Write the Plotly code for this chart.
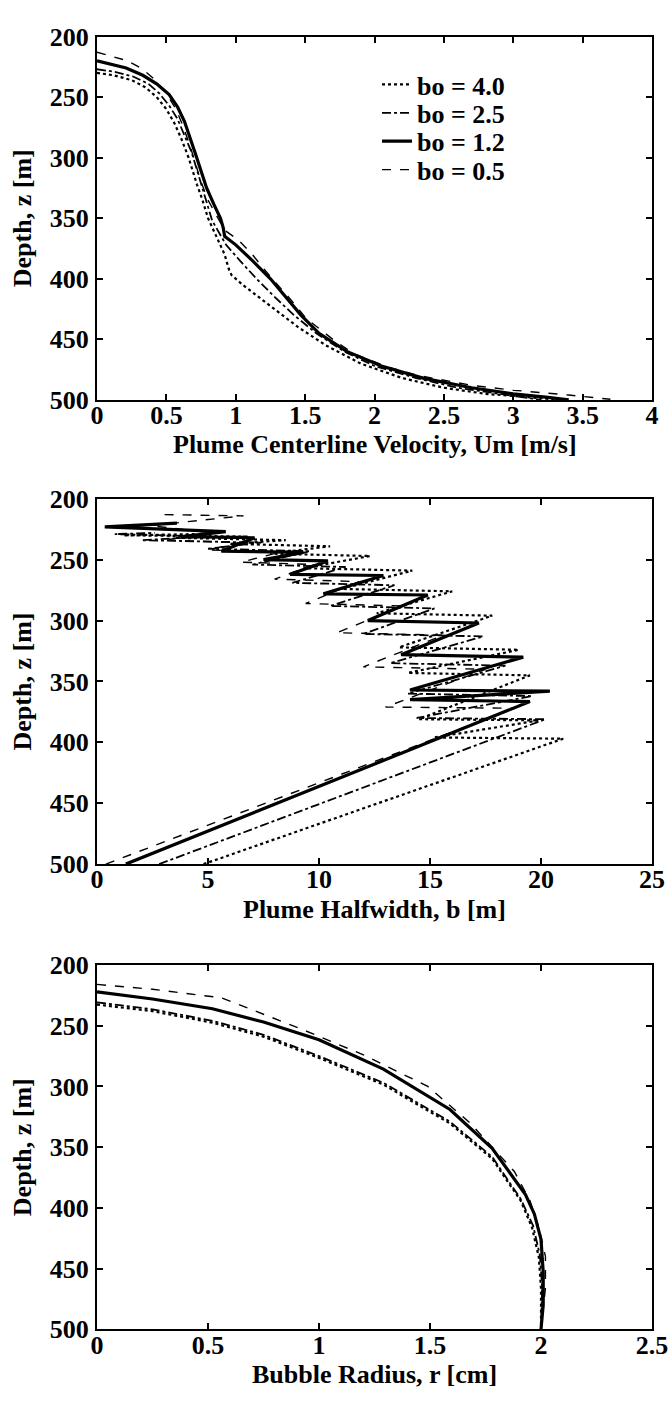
import plotly.graph_objects as go

W, H = 672, 1407
ML, MR = 97, 20

# ---------------- data ----------------
labels = ["bo = 4.0", "bo = 2.5", "bo = 1.2", "bo = 0.5"]

# Panel 1: plume centerline velocity Um [m/s] vs depth z [m]
u_40 = [0, 0.12, 0.25, 0.35, 0.43, 0.50, 0.56, 0.61, 0.66, 0.70, 0.72, 0.76, 0.80, 0.86, 0.92, 0.95, 0.97, 1.05, 1.22, 1.45, 1.65, 1.90, 2.20, 2.50, 2.80, 3.10, 3.35]
z1_40 = [230, 232, 236, 242, 250, 260, 272, 285, 300, 315, 322, 335, 350, 365, 380, 392, 397, 405, 420, 440, 455, 470, 482, 490, 495, 498, 500]
u_25 = [0, 0.12, 0.26, 0.37, 0.45, 0.52, 0.58, 0.63, 0.68, 0.72, 0.76, 0.80, 0.83, 0.88, 0.93, 1.03, 1.15, 1.28, 1.42, 1.58, 1.78, 2.00, 2.30, 2.60, 2.95, 3.20]
z1_25 = [227, 229, 233, 239, 247, 257, 268, 281, 295, 310, 325, 340, 352, 362, 372, 385, 400, 415, 430, 445, 460, 472, 482, 490, 496, 500]
u_12 = [0, 0.10, 0.21, 0.33, 0.43, 0.52, 0.58, 0.63, 0.67, 0.71, 0.75, 0.79, 0.84, 0.89, 0.91, 0.92, 1.00, 1.12, 1.25, 1.36, 1.47, 1.60, 1.80, 2.05, 2.35, 2.70, 3.00, 3.25, 3.40]
z1_12 = [220, 223, 226, 232, 239, 248, 258, 270, 283, 297, 311, 325, 338, 350, 358, 365, 372, 385, 400, 415, 430, 445, 460, 472, 482, 490, 495, 498, 500]
u_05 = [0, 0.10, 0.22, 0.33, 0.42, 0.50, 0.57, 0.62, 0.67, 0.71, 0.75, 0.80, 0.86, 0.92, 1.02, 1.12, 1.19, 1.27, 1.38, 1.51, 1.70, 1.85, 2.10, 2.32, 2.70, 3.00, 3.40, 3.70]
z1_05 = [213, 216, 220, 227, 236, 247, 260, 274, 290, 305, 320, 335, 348, 360, 368, 380, 390, 401, 415, 433, 450, 462, 473, 480, 488, 492, 496, 499.5]

# Panel 2: plume halfwidth b [m] vs depth z [m]
b_40 = [4.8, 21.0, 15.2, 19.9, 14.5, 19.5, 14.0, 19.0, 13.6, 17.8, 12.6, 16.0, 11.0, 14.2, 9.3, 12.3, 7.8, 10.5, 6.0, 8.5, 3.5, 6.8, 1.2, 4.5]
z2_40 = [500, 397, 396, 382, 381, 345, 343, 324, 322, 296, 294, 276, 274, 259, 257, 247, 245, 239, 237, 234, 232, 231, 230, 229]
b_25 = [2.8, 20.2, 14.4, 19.6, 14.0, 18.4, 13.2, 17.4, 12.0, 15.2, 10.5, 13.4, 8.8, 11.2, 7.0, 9.6, 5.0, 7.4, 2.0, 5.0, 0.8, 2.6]
z2_25 = [500, 381, 380, 362, 360, 337, 335, 313, 311, 290, 288, 271, 269, 256, 254, 243, 241, 236, 234, 231, 229, 228]
b_12 = [1.3, 19.5, 14.1, 20.4, 14.1, 19.2, 13.7, 17.2, 12.2, 14.9, 10.2, 12.9, 8.7, 10.4, 7.5, 9.3, 5.6, 7.1, 3.8, 5.8, 0.35, 3.6]
z2_12 = [500, 366.5, 365, 358, 357, 330, 328, 302, 300, 279, 278, 263, 262, 251, 250, 244, 243, 232, 231, 227, 223, 220]
b_05 = [0.4, 18.8, 13.0, 17.5, 12.0, 15.6, 10.8, 13.8, 9.4, 11.8, 8.0, 9.8, 6.5, 8.2, 5.0, 6.4, 3.0, 5.2, 2.4, 6.6, 3.0]
z2_05 = [500, 372, 371, 340, 338, 312, 310, 288, 286, 268, 266, 254, 252, 244, 242, 236, 234, 228, 222, 214, 213]

# Panel 3: bubble radius r [cm] vs depth z [m]
r_40 = [0, 0.25, 0.52, 0.75, 1.00, 1.29, 1.59, 1.78, 1.91, 1.96, 1.99, 2.00, 2.00]
z3_40 = [232.6, 238, 247.5, 259, 276.5, 298.5, 330.5, 359.5, 394.5, 416.5, 440.5, 466.5, 500]
r_25 = [0, 0.25, 0.52, 0.75, 1.00, 1.29, 1.59, 1.78, 1.91, 1.965, 1.995, 2.005, 2.00]
z3_25 = [230.8, 236.5, 246, 257.5, 275, 297, 329, 358, 393, 415, 439, 465, 500]
r_12 = [0, 0.25, 0.52, 0.75, 1.00, 1.29, 1.59, 1.78, 1.93, 1.97, 2.00, 2.01, 2.01, 2.00]
z3_12 = [222.2, 228, 236, 247, 261.6, 285.7, 319, 351, 389, 405, 426, 453, 480, 500]
r_05 = [0, 0.25, 0.56, 0.91, 1.20, 1.49, 1.68, 1.88, 1.95, 1.99, 2.02, 2.02, 2.00]
z3_05 = [216, 220, 227, 252, 274, 300, 330, 370, 394, 416, 440, 466, 500]

x1_ticks = [0, 0.5, 1, 1.5, 2, 2.5, 3, 3.5, 4]
x1_text = ["0", "0.5", "1", "1.5", "2", "2.5", "3", "3.5", "4"]
x2_ticks = [0, 5, 10, 15, 20, 25]
x3_ticks = [0, 0.5, 1, 1.5, 2, 2.5]
x3_text = ["0", "0.5", "1", "1.5", "2", "2.5"]
y_ticks = [200, 250, 300, 350, 400, 450, 500]

x_titles = ["Plume Centerline Velocity, Um [m/s]", "Plume Halfwidth, b [m]", "Bubble Radius, r [cm]"]
y_title = "Depth, z [m]"

# ---------------- styling ----------------
styles = [dict(dash="dot", width=2.2), dict(dash="dashdot", width=1.8),
          dict(dash="solid", width=3.2), dict(dash="dash", width=1.4)]
FONT = "Liberation Serif"
legend_ids = ["legend", "legend2", "legend3", "legend4"]

fig = go.Figure()
panels = [
    ([u_40, u_25, u_12, u_05], [z1_40, z1_25, z1_12, z1_05]),
    ([b_40, b_25, b_12, b_05], [z2_40, z2_25, z2_12, z2_05]),
    ([r_40, r_25, r_12, r_05], [z3_40, z3_25, z3_12, z3_05]),
]
for p, (xs, zs) in enumerate(panels):
    suf = "" if p == 0 else str(p + 1)
    for i in range(4):
        fig.add_trace(go.Scatter(
            x=xs[i], y=zs[i], mode="lines", name=labels[i],
            line=dict(color="black", **styles[i]),
            xaxis="x" + suf, yaxis="y" + suf, showlegend=(p == 0),
            legend=legend_ids[i]))

# pixel boxes (top, bottom)
boxes = [(23, 394), (495, 868), (971, 1343)]

def pf(y):
    return 1 - y / H

tickfont = dict(family=FONT, size=26, color="black", weight="bold")
axis_common = dict(showline=True, linecolor="black", linewidth=2, mirror="allticks",
                   ticks="inside", ticklen=6, tickwidth=1.5, tickcolor="black",
                   showgrid=False, zeroline=False, tickfont=tickfont)

xr = [[0, 4], [0, 25], [0, 2.5]]
xt = [(x1_ticks, x1_text), (x2_ticks, [str(v) for v in x2_ticks]), (x3_ticks, x3_text)]
layout = {}
for p in range(3):
    suf = "" if p == 0 else str(p + 1)
    top, bot = boxes[p]
    layout["xaxis" + suf] = dict(axis_common, range=xr[p], tickmode="array",
                                 tickvals=xt[p][0], ticktext=xt[p][1],
                                 anchor="y" + suf, domain=[0, 1], ticklabelstandoff=-9)
    layout["yaxis" + suf] = dict(axis_common, range=[500, 200], tickmode="array",
                                 tickvals=y_ticks, ticktext=[str(v) for v in y_ticks],
                                 anchor="x" + suf, domain=[pf(bot), pf(top)], ticklabelstandoff=1)

annotations = []
for p in range(3):
    top, bot = boxes[p]
    annotations.append(dict(text=x_titles[p], xref="paper", yref="paper",
                            x=0.5, y=pf(bot + 46), showarrow=False,
                            xanchor="center", yanchor="middle",
                            font=dict(family=FONT, size=26, color="black", weight="bold")))
    annotations.append(dict(text=y_title, xref="paper", yref="paper",
                            x=(22 - ML) / (W - ML - MR), y=pf((top + bot) / 2),
                            showarrow=False, textangle=-90,
                            xanchor="center", yanchor="middle",
                            font=dict(family=FONT, size=26, color="black", weight="bold")))

legend_rows = [72, 101, 130, 159]
leg_common = dict(x=(377 - ML) / (W - ML - MR), xanchor="left", yanchor="middle",
                  bgcolor="rgba(0,0,0,0)", borderwidth=0,
                  font=dict(family=FONT, size=26, color="black", weight="bold"))
legends = {}
for i, lid in enumerate(legend_ids):
    legends[lid] = dict(leg_common, y=pf(legend_rows[i]))

fig.update_layout(
    width=W, height=H,
    margin=dict(l=ML, r=MR, t=0, b=0),
    paper_bgcolor="white", plot_bgcolor="white",
    annotations=annotations,
    **legends,
    **layout,
)

fig.write_html("out.html")
